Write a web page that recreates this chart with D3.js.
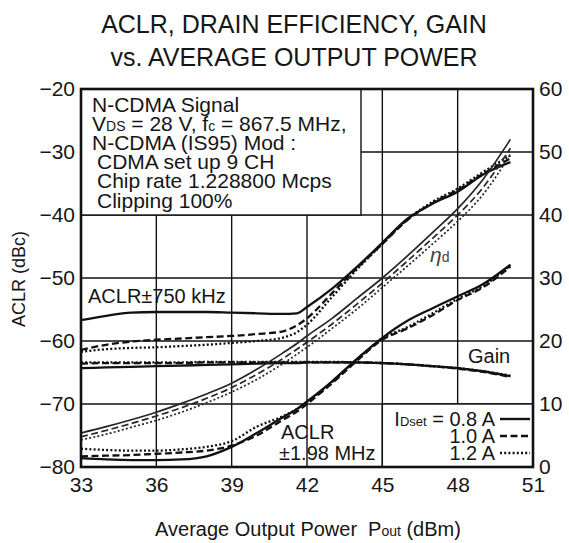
<!DOCTYPE html>
<html><head><meta charset="utf-8">
<script src="https://cdn.jsdelivr.net/npm/d3@7"></script>
<style>
html,body{margin:0;padding:0;background:#fff;}
svg{display:block;font-family:"Liberation Sans",Arial,Helvetica,sans-serif;fill:#161616;}
</style></head><body>
<svg id="chart" width="569" height="543"></svg>
<script>
// Average output power (dBm) at which every curve is sampled
const pout = [33,34,35,36,37,38,39,40,41,41.6,42,43,44,45,46,47,48,49,50.1];

// ACLR at ±750 kHz offset (dBc) for IDset = 0.8 / 1.0 / 1.2 A
const aclr750_08 = [-56.7,-56.0,-55.5,-55.4,-55.4,-55.4,-55.5,-55.6,-55.7,-55.6,-54.6,-51.7,-48.2,-44.4,-40.6,-38.2,-36.3,-33.6,-31.6];
const aclr750_10 = [-61.4,-60.6,-60.1,-59.8,-59.6,-59.4,-59.2,-58.9,-58.5,-57.5,-56.4,-52.4,-48.4,-44.6,-40.8,-38.1,-36.0,-33.5,-31.0];
const aclr750_12 = [-61.7,-61.3,-61.1,-61.0,-60.8,-60.6,-60.3,-60.0,-59.5,-58.6,-57.4,-53.0,-48.6,-44.6,-40.7,-37.9,-35.8,-33.2,-30.5];

// ACLR at ±1.98 MHz offset (dBc)
const aclr198_08 = [-78.6,-78.8,-78.9,-78.9,-78.8,-78.3,-76.8,-74.6,-72.2,-70.8,-69.6,-66.4,-62.8,-59.5,-56.8,-54.8,-52.9,-51.0,-47.9];
const aclr198_10 = [-78.3,-78.2,-78.1,-77.9,-77.7,-77.4,-76.6,-75.0,-72.6,-71.2,-70.0,-66.7,-63.1,-59.8,-58.0,-55.9,-53.5,-51.5,-48.2];
const aclr198_12 = [-77.1,-77.3,-77.4,-77.4,-77.2,-76.8,-75.9,-73.6,-72.0,-70.8,-69.7,-66.5,-62.9,-59.6,-57.8,-55.6,-53.3,-51.3,-48.0];

// Drain efficiency (%)
const eff_08 = [5.4,6.4,7.5,8.7,10.1,11.6,13.3,15.5,18.0,19.6,20.8,23.6,26.8,30.0,33.5,37.2,41.0,45.6,52.0];
const eff_10 = [4.8,5.8,6.9,8.1,9.4,10.9,12.6,14.7,17.1,18.7,19.8,22.7,25.9,29.2,32.7,36.3,40.0,44.3,50.6];
const eff_12 = [4.3,5.2,6.3,7.4,8.7,10.2,11.9,13.9,16.3,17.9,19.0,22.0,25.1,28.5,31.9,35.4,39.0,43.2,49.6];

// Gain (dB)
const gain_08 = [15.7,15.8,15.9,16.0,16.1,16.2,16.3,16.4,16.5,16.5,16.6,16.6,16.6,16.5,16.3,16.0,15.7,15.2,14.4];
const gain_10 = [16.4,16.5,16.5,16.5,16.5,16.6,16.6,16.6,16.6,16.6,16.6,16.6,16.6,16.5,16.3,16.0,15.6,15.1,14.3];
const gain_12 = [16.6,16.6,16.6,16.6,16.6,16.7,16.7,16.7,16.7,16.7,16.7,16.7,16.6,16.5,16.3,16.0,15.7,15.2,14.5];

// Axis ticks
const xTicks = [33,36,39,42,45,48,51];
const yLeftTicks = [-80,-70,-60,-50,-40,-30,-20];
const yRightTicks = [0,10,20,30,40,50,60];

// Bias settings and their line styles
const idset = ["0.8","1.0","1.2"];
const dashes = [null, "7,3.5", "2,2.2"];

const svg = d3.select("#chart");
const L = 81, R = 533, T = 89, B = 467;

const x = d3.scaleLinear().domain([33,51]).range([L,R]);
const yL = d3.scaleLinear().domain([-80,-20]).range([B,T]);
const yR = d3.scaleLinear().domain([0,60]).range([B,T]);

// grid
const grid = svg.append("g").attr("stroke","#111").attr("stroke-width",1.4);
grid.selectAll("line.v").data(xTicks.slice(1,-1)).join("line")
  .attr("x1",d=>x(d)).attr("x2",d=>x(d)).attr("y1",T).attr("y2",B);
grid.selectAll("line.h").data(yLeftTicks.slice(1,-1)).join("line")
  .attr("y1",d=>yL(d)).attr("y2",d=>yL(d)).attr("x1",L).attr("x2",R);

// condition box (top-left) and legend box (bottom-right)
svg.append("rect").attr("x",L).attr("y",T).attr("width",x(44.15)-L).attr("height",yL(-40)-T)
  .attr("fill","#fff").attr("stroke","#111").attr("stroke-width",1.4);
svg.append("rect").attr("x",x(45)).attr("y",yL(-70)).attr("width",R-x(45)).attr("height",B-yL(-70))
  .attr("fill","#fff").attr("stroke","#111").attr("stroke-width",1.4);

// curves
const lineL = d3.line().x((d,i)=>x(pout[i])).y(d=>yL(d)).curve(d3.curveMonotoneX);
const lineR = d3.line().x((d,i)=>x(pout[i])).y(d=>yR(d)).curve(d3.curveMonotoneX);

const curves = [
  {vals:aclr750_08, ln:lineL, k:0, w:2.3, c:"#111"},
  {vals:aclr750_10, ln:lineL, k:1, w:2.3, c:"#111"},
  {vals:aclr750_12, ln:lineL, k:2, w:2.3, c:"#111"},
  {vals:aclr198_08, ln:lineL, k:0, w:2.3, c:"#111"},
  {vals:aclr198_10, ln:lineL, k:1, w:2.3, c:"#111"},
  {vals:aclr198_12, ln:lineL, k:2, w:2.3, c:"#111"},
  {vals:gain_08, ln:lineR, k:0, w:2.3, c:"#111"},
  {vals:gain_10, ln:lineR, k:1, w:2.3, c:"#111"},
  {vals:gain_12, ln:lineR, k:2, w:2.3, c:"#111"},
  {vals:eff_08, ln:lineR, k:0, w:1.7, c:"#262626"},
  {vals:eff_10, ln:lineR, k:1, w:1.7, c:"#262626"},
  {vals:eff_12, ln:lineR, k:2, w:1.7, c:"#262626"}
];
svg.append("g").selectAll("path").data(curves).join("path")
  .attr("d",d=>d.ln(d.vals))
  .attr("fill","none").attr("stroke",d=>d.c).attr("stroke-width",d=>d.w)
  .attr("stroke-dasharray",d=>dashes[d.k]);

// frame
svg.append("rect").attr("x",L).attr("y",T).attr("width",R-L).attr("height",B-T)
  .attr("fill","none").attr("stroke","#111").attr("stroke-width",2.6);

// axes (labels only)
const fs = "21px";
const axL = svg.append("g").attr("transform",`translate(${L},0)`)
  .call(d3.axisLeft(yL).tickValues(yLeftTicks).tickSize(0).tickPadding(6));
const axR = svg.append("g").attr("transform",`translate(${R},0)`)
  .call(d3.axisRight(yR).tickValues(yRightTicks).tickSize(0).tickPadding(6));
const axB = svg.append("g").attr("transform",`translate(0,${B})`)
  .call(d3.axisBottom(x).tickValues(xTicks).tickSize(0).tickPadding(10));
[axL,axR,axB].forEach(a=>{
  a.select(".domain").remove();
  a.selectAll("text").attr("font-size",fs).attr("fill","#161616")
    .attr("font-family","'Liberation Sans',Arial,sans-serif");
});

// titles
const title = svg.append("text").attr("text-anchor","middle").attr("font-size","25px");
title.append("tspan").attr("x",294).attr("y",33).text("ACLR, DRAIN EFFICIENCY, GAIN");
title.append("tspan").attr("x",294).attr("y",66).text("vs. AVERAGE OUTPUT POWER");

svg.append("text").attr("transform","translate(25,279) rotate(-90)")
  .attr("text-anchor","middle").attr("font-size","18px").text("ACLR (dBc)");

const xt = svg.append("text").attr("x",308).attr("y",536).attr("text-anchor","middle").attr("font-size","20px");
xt.append("tspan").text("Average Output Power");
xt.append("tspan").attr("dx",11).text("P");
xt.append("tspan").attr("font-size","14px").text("out");
xt.append("tspan").text(" (dBm)");

// condition text
const cond = svg.append("g").attr("font-size","21px");
const y0 = 111.5, dy = 19.2;
cond.append("text").attr("x",92).attr("y",y0).text("N-CDMA Signal");
const l2 = cond.append("text").attr("x",92).attr("y",y0+dy);
l2.append("tspan").text("V");
l2.append("tspan").attr("font-size","14px").text("DS");
l2.append("tspan").text(" = 28 V, f");
l2.append("tspan").attr("font-size","14px").text("c");
l2.append("tspan").text(" = 867.5 MHz,");
cond.append("text").attr("x",92).attr("y",y0+2*dy).text("N-CDMA (IS95) Mod :");
cond.append("text").attr("x",97).attr("y",y0+3*dy).text("CDMA set up 9 CH");
cond.append("text").attr("x",97).attr("y",y0+4*dy).text("Chip rate 1.228800 Mcps");
cond.append("text").attr("x",97).attr("y",y0+5*dy).text("Clipping 100%");

// curve labels
svg.append("text").attr("x",88).attr("y",303).attr("font-size","20px").text("ACLR±750 kHz");
svg.append("text").attr("x",468).attr("y",363).attr("font-size","20px").text("Gain");
const eta = svg.append("text").attr("x",430).attr("y",262).attr("fill","#444");
eta.append("tspan").attr("font-size","21px").attr("font-style","italic").text("η");
eta.append("tspan").attr("font-size","14px").text("d");
svg.append("text").attr("x",281).attr("y",439).attr("font-size","20px").text("ACLR");
svg.append("text").attr("x",279).attr("y",460).attr("font-size","20px").text("±1.98 MHz");

// legend
const legY = [426,443,460];
const leg = svg.append("g").attr("font-size","20px");
idset.forEach((v,i)=>{
  const t = leg.append("text").attr("x",495).attr("y",legY[i]).attr("text-anchor","end");
  if(i===0){
    t.append("tspan").text("I");
    t.append("tspan").attr("font-size","13px").text("Dset");
    t.append("tspan").text(" = " + v + " A");
  } else {
    t.text(v + " A");
  }
  leg.append("line").attr("x1",500).attr("x2",530).attr("y1",legY[i]-7).attr("y2",legY[i]-7)
    .attr("stroke","#111").attr("stroke-width",2.4).attr("stroke-dasharray",dashes[i]);
});
</script>
</body></html>
